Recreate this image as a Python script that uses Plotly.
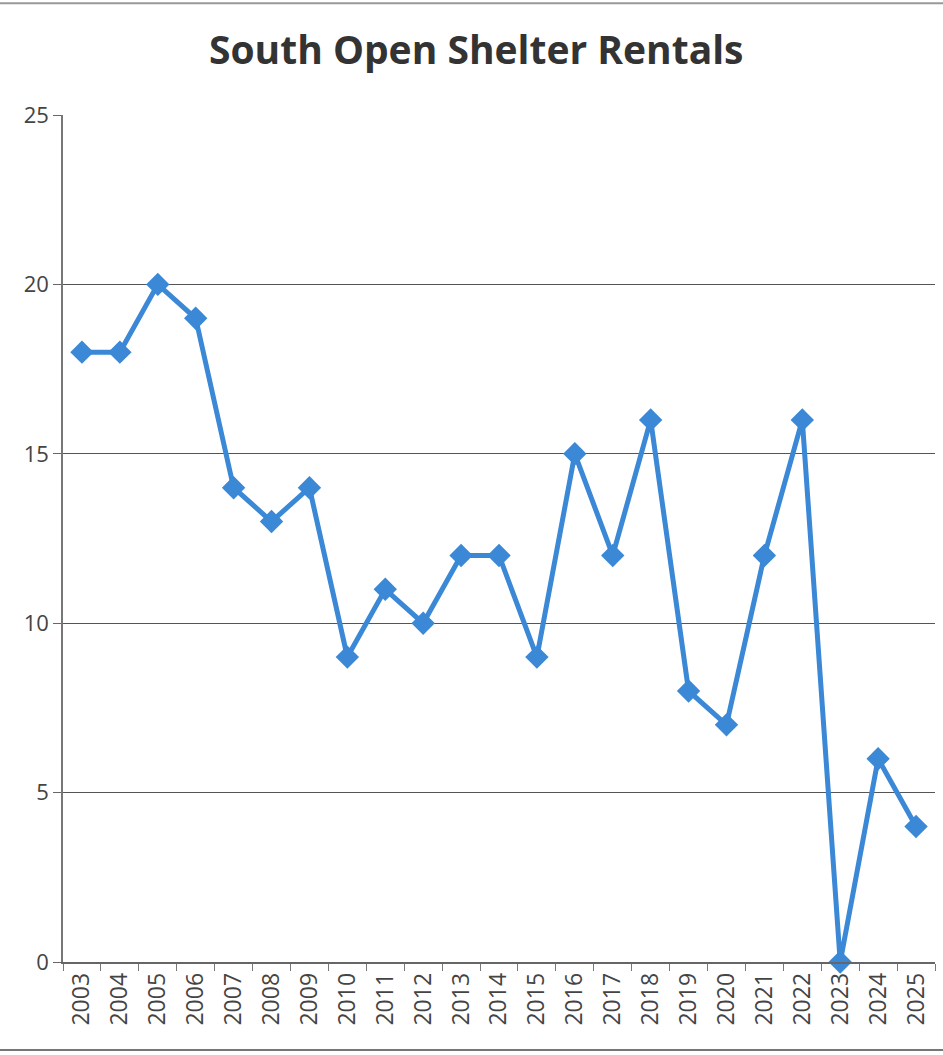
import plotly.graph_objects as go

years = [str(y) for y in range(2003, 2026)]
rentals = [18, 18, 20, 19, 14, 13, 14, 9, 11, 10, 12, 12, 9, 15, 12, 16, 8, 7, 12, 16, 0, 6, 4]
y_ticks = [0, 5, 10, 15, 20, 25]

fig = go.Figure()
fig.add_trace(go.Scatter(
    x=years, y=rentals, mode="lines+markers",
    line=dict(color="#3a88d6", width=5),
    marker=dict(symbol="diamond", size=18, color="#3a88d6"),
    cliponaxis=False,
))

fig.update_layout(
    width=943, height=1055,
    margin=dict(l=63, r=8, t=115, b=93),
    paper_bgcolor="white", plot_bgcolor="white",
    showlegend=False,
    title=dict(text="<b>South Open Shelter Rentals</b>", x=0.505, xanchor="center",
               y=0.952, yanchor="middle",
               font=dict(family="Open Sans", size=39, color="#333333")),
    font=dict(family="Open Sans", color="#444444"),
    xaxis=dict(type="category", range=[-0.5, 22.5], tickson="boundaries",
               ticks="outside", ticklen=7, tickcolor="#777777",
               showline=True, linecolor="#666666", linewidth=1.5,
               showgrid=False, tickangle=-90,
               tickfont=dict(size=23, color="#444444")),
    yaxis=dict(range=[0, 25], tickvals=y_ticks, ticks="outside", ticklen=8,
               tickcolor="#666666", showline=True, linecolor="#777777", linewidth=1.5,
               showgrid=True, gridcolor="#555555", gridwidth=1.3,
               zeroline=False, tickfont=dict(size=22, color="#444444")),
    shapes=[
        dict(type="line", xref="paper", yref="paper", x0=-0.08, x1=1.01, y0=1.132, y1=1.132,
             line=dict(color="#999999", width=2)),
        dict(type="line", xref="paper", yref="paper", x0=-0.08, x1=1.01, y0=-0.104, y1=-0.104,
             line=dict(color="#777777", width=2)),
    ],
)

fig.write_html("out.html", config={"displayModeBar": False},
               post_script="document.body.style.margin='0';")
